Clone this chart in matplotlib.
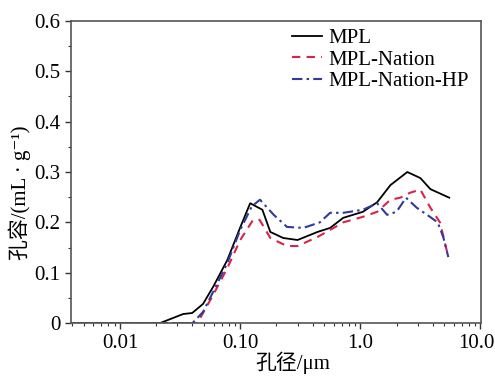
import matplotlib
matplotlib.use("Agg")
import matplotlib.pyplot as plt
from matplotlib.ticker import FixedLocator, MultipleLocator, LogLocator, NullFormatter
from matplotlib.transforms import ScaledTranslation

plt.rcParams['font.family'] = ['Liberation Serif', 'Noto Sans CJK SC', 'DejaVu Sans']

# pore diameter (um) and pore volume (mL/g)
mpl_x = [0.004, 0.0215, 0.0335, 0.0398, 0.049, 0.0595, 0.078, 0.1, 0.121, 0.153, 0.178,
         0.228, 0.30, 0.44, 0.56, 0.72, 1.05, 1.38, 1.78, 2.46, 3.16, 3.83, 5.5]
mpl_y = [0.0, 0.0, 0.018, 0.02, 0.038, 0.072, 0.125, 0.19, 0.238, 0.225, 0.181,
         0.169, 0.165, 0.181, 0.189, 0.209, 0.221, 0.24, 0.274, 0.30, 0.288, 0.266, 0.249]

nat_x = [0.004, 0.044, 0.0595, 0.078, 0.1, 0.128, 0.145, 0.178, 0.245, 0.30, 0.44, 0.56,
         0.72, 1.05, 1.38, 1.78, 2.15, 2.6, 3.16, 3.83, 4.6, 5.4]
nat_y = [0.0, 0.0, 0.056, 0.109, 0.165, 0.205, 0.205, 0.169, 0.153, 0.153, 0.171, 0.185,
         0.2, 0.211, 0.221, 0.245, 0.249, 0.259, 0.265, 0.229, 0.2, 0.131]

hp_x = [0.004, 0.04, 0.049, 0.0595, 0.078, 0.1, 0.125, 0.146, 0.19, 0.245, 0.335, 0.46,
        0.56, 0.72, 1.05, 1.38, 1.67, 2.0, 2.4, 2.95, 3.8, 4.4, 4.9, 5.4]
hp_y = [0.0, 0.0, 0.022, 0.062, 0.119, 0.185, 0.232, 0.245, 0.215, 0.191, 0.189, 0.2,
        0.219, 0.219, 0.225, 0.238, 0.215, 0.221, 0.249, 0.229, 0.211, 0.2, 0.171, 0.131]

labels = ["MPL", "MPL-Nation", "MPL-Nation-HP"]
xticks = [0.01, 0.1, 1.0, 10.0]
xticklabels = ["0.01", "0.10", "1.0", "10.0"]
yticks = [0, 0.1, 0.2, 0.3, 0.4, 0.5, 0.6]
yticklabels = ["0", "0.1", "0.2", "0.3", "0.4", "0.5", "0.6"]

fig = plt.figure(figsize=(4.95, 3.81), dpi=100)
ax = fig.add_axes([0.1434, 0.152, 0.8283, 0.793])

ax.plot(mpl_x, mpl_y, color='black', lw=1.3, label=labels[0])
ax.plot(nat_x, nat_y, color='#d8234a', lw=1.5, ls=(0, (4, 3)), label=labels[1])
ax.plot(hp_x, hp_y, color='#2f3a9c', lw=1.5, ls=(0, (5, 2, 1.2, 2)), label=labels[2])

ax.set_xscale('log')
ax.set_xlim(0.0039, 10.1)
ax.set_ylim(0, 0.6)
ax.xaxis.set_major_locator(FixedLocator(xticks))
ax.set_xticklabels(xticklabels)
ax.xaxis.set_minor_locator(LogLocator(base=10, subs=range(2, 10)))
ax.xaxis.set_minor_formatter(NullFormatter())
ax.yaxis.set_major_locator(FixedLocator(yticks))
ax.set_yticklabels(yticklabels)
ax.yaxis.set_minor_locator(MultipleLocator(0.05))

ax.tick_params(which='major', direction='out', length=4, width=1, labelsize=15,
               colors='#333333', labelcolor='black')
ax.tick_params(which='minor', direction='out', length=2, width=0.8, colors='#333333')
for s in ax.spines.values():
    s.set_color('#555555')
    s.set_linewidth(1.2)

# nudge last x tick label so it stays inside the figure
lastlab = ax.get_xticklabels()[-1]
lastlab.set_transform(lastlab.get_transform() + ScaledTranslation(-4/100, 0, fig.dpi_scale_trans))

ax.set_xlabel("孔径/μm", fontsize=15)
ax.xaxis.set_label_coords(0.54, -0.095)
ax.set_ylabel("孔容/(mL · g⁻¹)", fontsize=15)
ax.yaxis.set_label_coords(-0.097, 0.43)

leg = ax.legend(loc='upper right', frameon=False, fontsize=15, handlelength=1.45,
                handletextpad=0.3, labelspacing=0.1, borderaxespad=0.1,
                bbox_to_anchor=(0.995, 1.01))

fig.savefig("out.png", dpi=100)
